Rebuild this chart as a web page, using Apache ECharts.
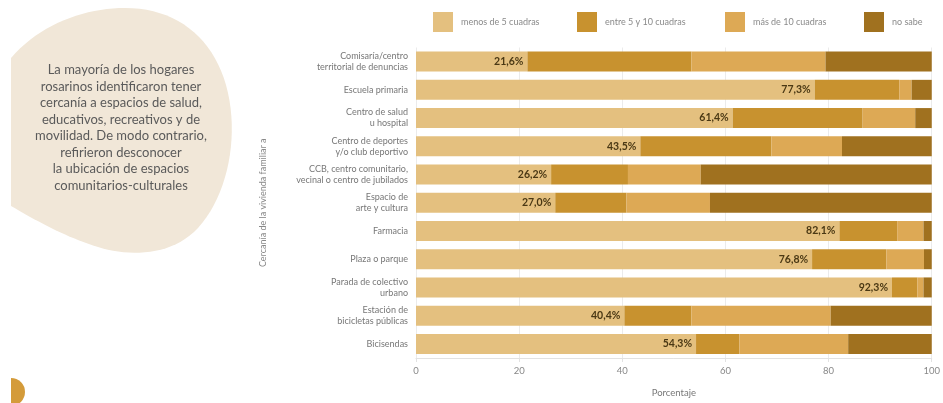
<!DOCTYPE html>
<html><head><meta charset="utf-8">
<script src="https://cdn.jsdelivr.net/npm/echarts@6/dist/echarts.min.js"></script>
<style>html,body{margin:0;padding:0;background:#fff}#c{width:943px;height:403px}</style>
</head><body><div id="c"></div>
<script>
const categories = [
  "Comisaría/centro\nterritorial de denuncias",
  "Escuela primaria",
  "Centro de salud\nu hospital",
  "Centro de deportes\ny/o club deportivo",
  "CCB, centro comunitario,\nvecinal o centro de jubilados",
  "Espacio de\narte y cultura",
  "Farmacia",
  "Plaza o parque",
  "Parada de colectivo\nurbano",
  "Estación de\nbicicletas públicas",
  "Bicisendas"
];
const seriesNames = ["menos de 5 cuadras", "entre 5 y 10 cuadras", "más de 10 cuadras", "no sabe"];
const menos5 = [21.6, 77.3, 61.4, 43.5, 26.2, 27.0, 82.1, 76.8, 92.3, 40.4, 54.3];
const entre5y10 = [31.8, 16.4, 25.2, 25.4, 14.9, 13.8, 11.2, 14.4, 4.9, 13.0, 8.4];
const mas10 = [26.0, 2.4, 10.2, 13.7, 14.1, 16.2, 5.1, 7.3, 1.2, 27.0, 21.1];
const noSabe = [20.6, 3.9, 3.2, 17.4, 44.8, 43.0, 1.6, 1.5, 1.6, 19.6, 16.2];
const xTicks = [0, 20, 40, 60, 80, 100];
const note = "La mayoría de los hogares\nrosarinos identificaron tener\ncercanía a espacios de salud,\neducativos, recreativos y de\nmovilidad. De modo contrario,\nrefirieron desconocer\nla ubicación de espacios\ncomunitarios-culturales";

const colors = ["#E4C07F", "#C8922F", "#DDA955", "#A0711F"];
const FONT = "Lato";
const chart = echarts.init(document.getElementById('c'), null, {renderer: 'canvas'});
const dataArr = [menos5, entre5y10, mas10, noSabe];
const legendLefts = [428, 572, 720, 859];

// decorative blob outline built from cubic bezier segments
function blobPoints() {
  const segs = [
    [[11, 58], [40, 24], [85, 8], [125, 8]],
    [[125, 8], [175, 8], [212, 36], [226, 85]],
    [[226, 85], [240, 135], [228, 195], [198, 228]],
    [[198, 228], [172, 256], [130, 257], [98, 247]],
    [[98, 247], [65, 237], [35, 220], [11, 206]]
  ];
  const pts = [];
  segs.forEach(s => {
    for (let k = 0; k <= 20; k++) {
      const t = k / 20, u = 1 - t;
      const a = u * u * u, b = 3 * u * u * t, c = 3 * u * t * t, d = t * t * t;
      pts.push([a * s[0][0] + b * s[1][0] + c * s[2][0] + d * s[3][0],
                a * s[0][1] + b * s[1][1] + c * s[2][1] + d * s[3][1]]);
    }
  });
  return pts;
}

const series = seriesNames.map((n, i) => ({
  name: n, type: 'bar', stack: 'total', barWidth: 20,
  itemStyle: {color: colors[i]},
  data: dataArr[i].slice().reverse(),
  label: i === 0 ? {
    show: true, position: 'insideRight', distance: 4,
    formatter: p => p.value.toFixed(1).replace('.', ',') + '%',
    fontFamily: FONT, fontWeight: 'bold', fontSize: 10.5, color: '#4a3814'
  } : {show: false},
  emphasis: {disabled: true}
}));

chart.setOption({
  animation: false,
  textStyle: {fontFamily: FONT},
  legend: seriesNames.map((n, i) => ({
    data: [n], left: legendLefts[i], top: 7, itemWidth: 20, itemHeight: 20, itemGap: 0,
    icon: 'rect', textStyle: {fontFamily: FONT, fontSize: 9, color: '#8a8a8a', padding: [0, 0, 0, 3]},
    selectedMode: false
  })),
  grid: {left: 416, right: 2, top: 47.5, bottom: 38.5, containLabel: false},
  xAxis: {
    type: 'value', min: 0, max: 100, interval: 20,
    name: 'Porcentaje', nameLocation: 'middle', nameGap: 30,
    nameTextStyle: {fontFamily: FONT, fontSize: 9.5, color: '#777'},
    axisLine: {show: true, lineStyle: {color: '#e2e2e2'}},
    axisTick: {show: true, length: 4, lineStyle: {color: '#e2e2e2'}},
    axisLabel: {fontFamily: FONT, fontSize: 9.5, color: '#888', margin: 8,
      formatter: v => xTicks.includes(v) ? String(v) : ''},
    splitLine: {show: true, lineStyle: {color: '#ebebeb'}}
  },
  yAxis: {
    type: 'category', data: categories.slice().reverse(),
    name: 'Cercanía de la vivienda familiar a', nameLocation: 'middle', nameGap: 148,
    nameRotate: 90,
    nameTextStyle: {fontFamily: FONT, fontSize: 9, color: '#888'},
    axisLine: {show: false}, axisTick: {show: false},
    axisLabel: {fontFamily: FONT, fontSize: 9, color: '#777', margin: 8, lineHeight: 11, align: 'right'}
  },
  series: series,
  graphic: [
    {type: 'polygon', z: -1, shape: {points: blobPoints()}, style: {fill: '#F1E7D8'}},
    {type: 'text', z: 2,
      style: {text: note, x: 121, y: 62, textAlign: 'center', textVerticalAlign: 'top',
        fontFamily: FONT, fontSize: 13, lineHeight: 16.5, fill: '#5a5a5a'}},
    {type: 'sector', shape: {cx: 11, cy: 392, r: 14, startAngle: -Math.PI / 2, endAngle: Math.PI / 2},
      style: {fill: '#D49B3A'}}
  ]
});
</script></body></html>
